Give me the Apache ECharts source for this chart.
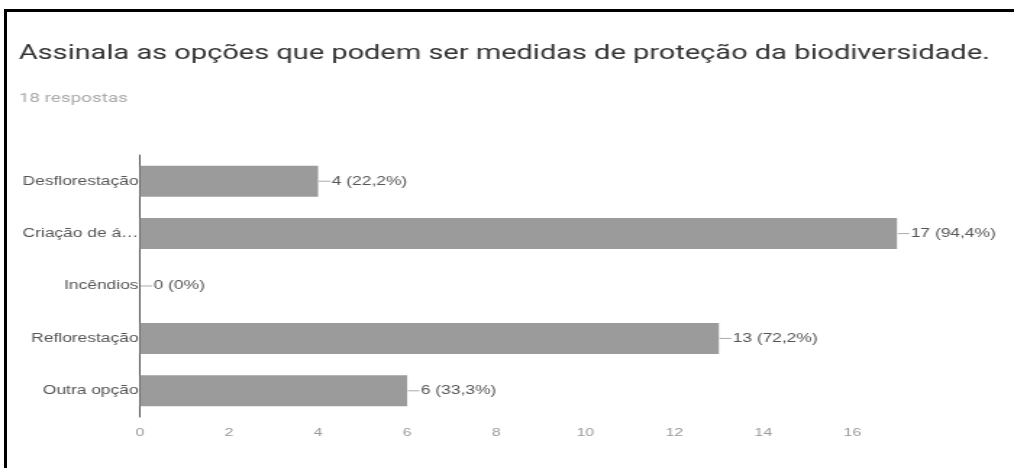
<!DOCTYPE html>
<html>
<head>
<meta charset="utf-8">
<script src="https://cdn.jsdelivr.net/npm/echarts@6/dist/echarts.min.js"></script>
<style>
  html, body { margin: 0; padding: 0; background: #fff; overflow: hidden; }
  #frame {
    position: absolute; left: 4px; top: 9px; right: 0; bottom: 0;
    border-top: 3px solid #000; border-left: 3px solid #000;
  }
  /* the chart is drawn on a narrower canvas and widened to the full width */
  #chart {
    position: absolute; left: 0; top: 0; width: 700px; height: 468px;
    transform: scaleX(1.4486); transform-origin: 0 0;
  }
</style>
</head>
<body>
<div id="chart"></div>
<div id="frame"></div>
<script>
// Survey question and answer counts
const questionTitle = 'Assinala as opções que podem ser medidas de proteção da biodiversidade.';
const responseCount = 18;
const responseLabel = '18 respostas';
const categories = ['Desflorestação', 'Criação de á…', 'Incêndios', 'Reflorestação', 'Outra opção'];
const counts = [4, 17, 0, 13, 6];
const xTicks = [0, 2, 4, 6, 8, 10, 12, 14, 16];

function pct(v) {
  const p = Math.round(v / responseCount * 1000) / 10;
  return String(p).replace('.', ',') + '%';
}

const chart = echarts.init(document.getElementById('chart'));
chart.setOption({
  animation: false,
  backgroundColor: '#fff',
  title: {
    text: questionTitle,
    subtext: responseLabel,
    left: 8,
    top: 39,
    itemGap: 28,
    textStyle: { fontFamily: 'Roboto', fontSize: 20, fontWeight: 'normal', color: '#333' },
    subtextStyle: { fontFamily: 'Roboto', fontSize: 13, color: '#aaa' }
  },
  grid: { left: 96.6, top: 155, width: 522.6, height: 262 },
  xAxis: {
    type: 'value',
    min: 0,
    max: 17,
    interval: 2,
    axisLine: { show: false },
    axisTick: { show: false },
    splitLine: { show: false },
    axisLabel: {
      showMaxLabel: false,
      margin: 10,
      color: '#999',
      fontFamily: 'Liberation Sans, Arial',
      fontSize: 11,
      formatter: v => (xTicks.indexOf(v) >= 0 ? String(v) : '')
    }
  },
  yAxis: {
    type: 'category',
    data: categories,
    inverse: true,
    axisLine: { show: true, lineStyle: { color: '#555', width: 1 } },
    axisTick: { show: false },
    axisLabel: {
      margin: 1,
      color: '#555',
      fontFamily: 'Liberation Sans, Arial',
      fontSize: 12
    }
  },
  series: [{
    type: 'bar',
    data: counts,
    barWidth: 31,
    itemStyle: { color: '#9b9b9b' },
    label: {
      show: true,
      position: 'right',
      distance: 0.5,
      formatter: p => '{l|}{t|' + p.value + ' (' + pct(p.value) + ')}',
      rich: {
        l: { width: 8, height: 1, backgroundColor: '#aaa' },
        t: { color: '#555', fontFamily: 'Liberation Sans, Arial', fontSize: 12, padding: [0, 0, 0, 1] }
      }
    }
  }]
});
</script>
</body>
</html>
